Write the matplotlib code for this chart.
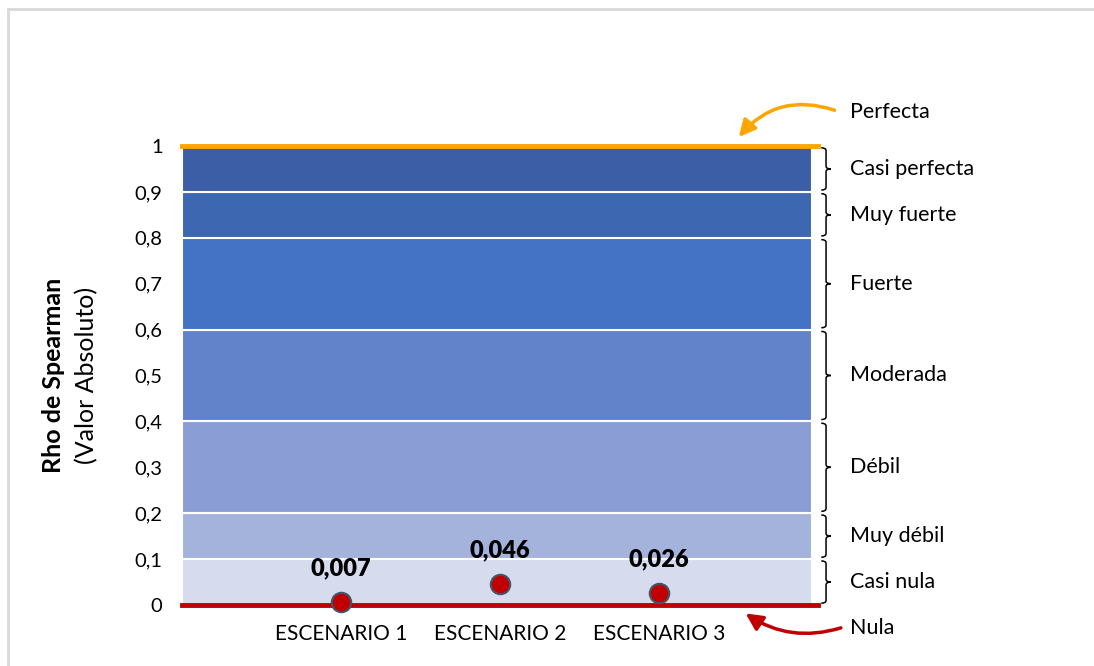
import matplotlib.pyplot as plt
from matplotlib.path import Path
from matplotlib.patches import PathPatch
from matplotlib.lines import Line2D

plt.rcParams['font.family'] = ['Lato', 'DejaVu Sans']

escenarios = ['ESCENARIO 1', 'ESCENARIO 2', 'ESCENARIO 3']
rho = [0.007, 0.046, 0.026]
rho_txt = ['0,007', '0,046', '0,026']

band_edges = [0.0, 0.1, 0.2, 0.4, 0.6, 0.8, 0.9, 1.0]
band_names = ['Casi nula', 'Muy débil', 'Débil', 'Moderada', 'Fuerte', 'Muy fuerte', 'Casi perfecta']
band_colors = ['#D6DCEE', '#A3B3DC', '#8A9ED5', '#6282CA', '#4472C4', '#3D67B1', '#3B5EA6']

yticks = [0, 0.1, 0.2, 0.3, 0.4, 0.5, 0.6, 0.7, 0.8, 0.9, 1]
yticklabels = ['0', '0,1', '0,2', '0,3', '0,4', '0,5', '0,6', '0,7', '0,8', '0,9', '1']

fig = plt.figure(figsize=(10.94, 6.66), dpi=100)
ax = fig.add_axes([0.1664, 0.0916, 0.5814, 0.6892])

# outer frame (left and top edges only are visible)
fig.add_artist(Line2D([0.0075, 0.0075], [0, 0.987], color='#D9D9D9', lw=2, transform=fig.transFigure))
fig.add_artist(Line2D([0.0075, 1], [0.987, 0.987], color='#D9D9D9', lw=2, transform=fig.transFigure))

ax.set_xlim(-1, 3)
ax.set_ylim(0, 1)

for lo, hi, c in zip(band_edges[:-1], band_edges[1:], band_colors):
    ax.axhspan(lo, hi, xmin=0, xmax=0.99, facecolor=c, edgecolor='white', lw=1.5)

ax.axhline(1.0, color='#FFA500', lw=3.5, clip_on=False, zorder=3)
ax.axhline(0.0, color='#C00000', lw=3.5, clip_on=False, zorder=3)

x = list(range(len(escenarios)))
ax.plot(x, rho, 'o', ms=14, mfc='#C00000', mec='#44546A', mew=1.5, clip_on=False, zorder=5)
for xi, v, t in zip(x, rho, rho_txt):
    ax.annotate(t, (xi, v), xytext=(0, 24), textcoords='offset points',
                ha='center', va='center', fontsize=17, fontweight='heavy')


def brace(ax, y0, y1, x0=3.02, w=0.03, tick=0.03):
    gap = 0.004
    y0 += gap
    y1 -= gap
    ym = (y0 + y1) / 2
    r = 0.006
    xv = x0 + w
    verts = [(x0, y1), (xv, y1), (xv, y1 - r),
             (xv, ym + r), (xv, ym), (xv + tick, ym),
             (xv, ym), (xv, ym - r),
             (xv, y0 + r), (xv, y0), (x0, y0)]
    codes = [Path.MOVETO, Path.CURVE3, Path.CURVE3,
             Path.LINETO, Path.CURVE3, Path.CURVE3,
             Path.CURVE3, Path.CURVE3,
             Path.LINETO, Path.CURVE3, Path.CURVE3]
    ax.add_patch(PathPatch(Path(verts, codes), fill=False, lw=1.1, ec='black', clip_on=False))


for lo, hi, name in zip(band_edges[:-1], band_edges[1:], band_names):
    brace(ax, lo, hi)
    ax.text(3.2, (lo + hi) / 2, name, ha='left', va='center', fontsize=15.5, clip_on=False)

ax.text(3.2, 1.074, 'Perfecta', ha='left', va='center', fontsize=15.5)
ax.text(3.2, -0.05, 'Nula', ha='left', va='center', fontsize=15.5)

ax.annotate('', xy=(2.49, 1.015), xytext=(3.12, 1.076),
            arrowprops=dict(arrowstyle='-|>,head_length=1.0,head_width=0.5', color='#FFA500',
                            lw=2.5, connectionstyle='arc3,rad=0.35'), annotation_clip=False)
ax.annotate('', xy=(2.53, -0.015), xytext=(3.16, -0.048),
            arrowprops=dict(arrowstyle='-|>,head_length=1.0,head_width=0.5', color='#C00000',
                            lw=2.5, connectionstyle='arc3,rad=-0.25'), annotation_clip=False)

ax.set_yticks(yticks)
ax.set_yticklabels(yticklabels, fontsize=14.5)
ax.set_xticks(x)
ax.set_xticklabels(escenarios, fontsize=15)
ax.tick_params(axis='y', length=0, pad=14)
ax.tick_params(axis='x', length=0, pad=14)
for s in ax.spines.values():
    s.set_visible(False)

fig.text(0.049, 0.437, 'Rho de Spearman', rotation=90, ha='center', va='center',
         fontsize=18, fontweight='bold')
fig.text(0.079, 0.437, '(Valor Absoluto)', rotation=90, ha='center', va='center', fontsize=18)

fig.savefig('out.png', dpi=100)
